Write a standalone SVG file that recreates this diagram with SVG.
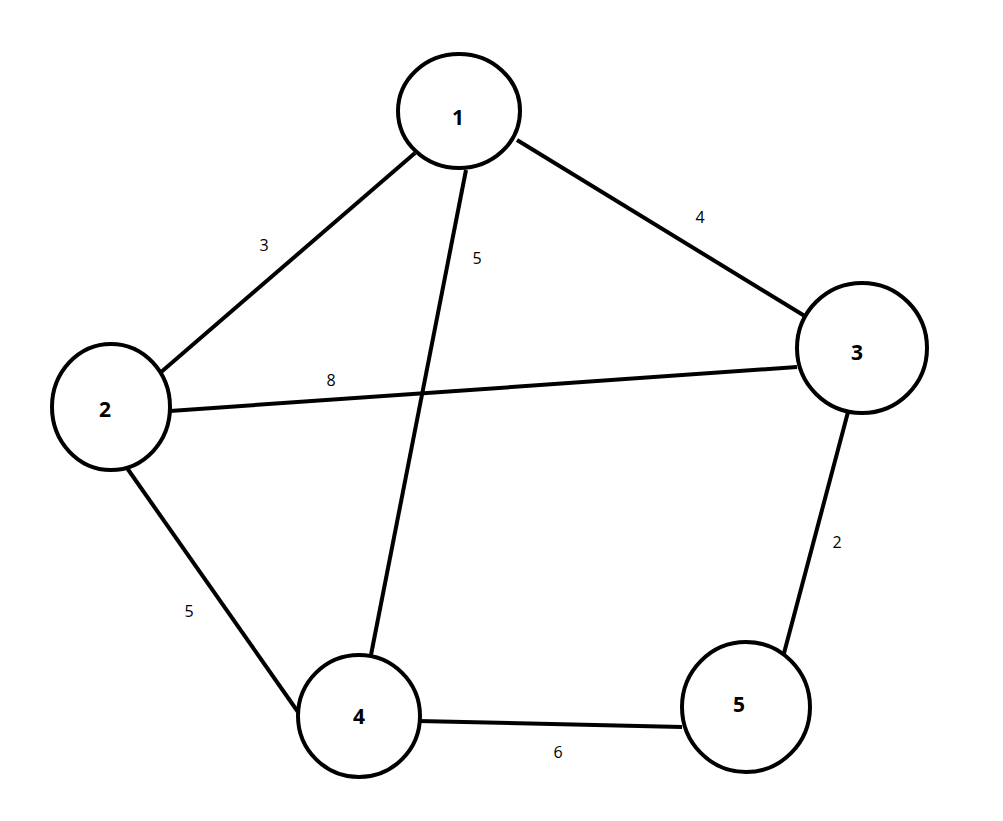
<svg xmlns="http://www.w3.org/2000/svg" width="1003" height="821" viewBox="0 0 1003 821">
<style>
.n{fill:#fff;stroke:#000;stroke-width:4}
.e{stroke:#000;stroke-width:4;fill:none}
.nl{font-family:"Open Sans","Noto Sans",sans-serif;font-weight:bold;font-size:21px;text-anchor:middle;dominant-baseline:central;fill:#000}
.el{font-family:"Open Sans","Noto Sans",sans-serif;font-size:16px;text-anchor:middle;dominant-baseline:central;fill:#000}
</style>
<rect width="1003" height="821" fill="#fff"/>
<g id="edges">
<line class="e" x1="415" y1="153" x2="160" y2="373"/>
<line class="e" x1="517" y1="140" x2="808" y2="318"/>
<line class="e" x1="466" y1="170" x2="370" y2="660"/>
<line class="e" x1="170" y1="411" x2="797" y2="367"/>
<line class="e" x1="127" y1="468" x2="298" y2="712"/>
<line class="e" x1="848" y1="412" x2="783" y2="657"/>
<line class="e" x1="418" y1="721" x2="682" y2="727"/>
<text class="el" x="264" y="245">3</text>
<text class="el" x="477" y="258">5</text>
<text class="el" x="700" y="217">4</text>
<text class="el" x="331" y="380">8</text>
<text class="el" x="189" y="611">5</text>
<text class="el" x="837" y="542">2</text>
<text class="el" x="558" y="752">6</text>
</g>
<g id="node1"><ellipse class="n" cx="459" cy="111" rx="61" ry="57"/><text class="nl" x="458" y="117">1</text></g>
<g id="node2"><ellipse class="n" cx="111" cy="407" rx="59" ry="63"/><text class="nl" x="105" y="409">2</text></g>
<g id="node3"><ellipse class="n" cx="862" cy="348" rx="65" ry="65"/><text class="nl" x="857" y="352">3</text></g>
<g id="node4"><ellipse class="n" cx="359" cy="716" rx="61" ry="61"/><text class="nl" x="359" y="716">4</text></g>
<g id="node5"><ellipse class="n" cx="746" cy="707" rx="64" ry="65"/><text class="nl" x="739" y="704">5</text></g>
</svg>
